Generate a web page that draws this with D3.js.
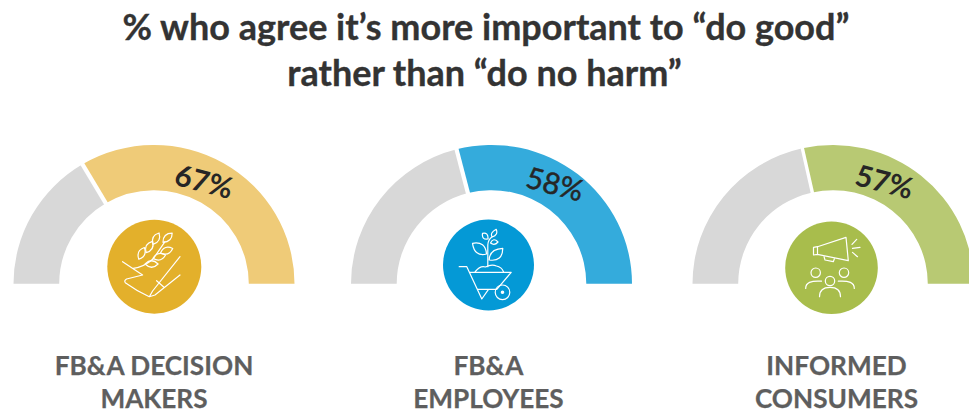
<!DOCTYPE html>
<html>
<head>
<meta charset="utf-8">
<script src="https://cdn.jsdelivr.net/npm/d3@7"></script>
<style>
html,body{margin:0;padding:0;background:#fff;overflow:hidden}
svg{display:block}
text{font-family:Lato,sans-serif}
</style>
</head>
<body>
<svg id="chart" width="969" height="413"></svg>
<script>
const titleLines = ["% who agree it\u2019s more important to \u201cdo good\u201d", "rather than \u201cdo no harm\u201d"];
const audiences = ["FB&A DECISION|MAKERS", "FB&A|EMPLOYEES", "INFORMED|CONSUMERS"];
const agreeShare = [67, 58, 57];
const arcColors = ["#EFCB78", "#34ABDC", "#B8C973"];
const badgeColors = ["#E3B02B", "#0499D6", "#A8BD4C"];
const restColor = "#D8D8D8";

const gaugeX = [154, 491.5, 833];
const gaugeY = 283.8;
const outerR = 140.5, innerR = 94.8, squash = 0.988;
const badges = [[154.3, 266.7, 47], [488.5, 265, 45.5], [831.5, 267.7, 46.3]];
const labelAngles = [26.1, 32.5, 26.8];
const labelRadii = [113.6, 118, 114];
const labelTilt = [15, 15, 15];
const captionX = [154, 488.5, 836.5];

const svg = d3.select("#chart");

svg.append("g").selectAll("text").data(titleLines).join("text")
  .attr("x", (d, i) => i ? 484.5 : 486).attr("y", (d, i) => 40 + i * 46.3)
  .attr("text-anchor", "middle").attr("font-size", 36).attr("font-weight", 700)
  .attr("fill", "#333").attr("stroke", "#333").attr("stroke-width", 0.35).text(d => d);

const pie = d3.pie().sort(null).value(d => d).startAngle(Math.PI / 2).endAngle(-Math.PI / 2);
const arc = d3.arc().innerRadius(innerR).outerRadius(outerR);

// Line-art icons, each drawn around the centre of its badge
const iconPainters = [
  g => {
    g.append("path").attr("d", "M-31.7 -5 L-11.7 8.3 L-27.7 12.3 Q-30.5 14 -29 16 Q-18 24 -5 30 L-1.7 24.3 L25.7 -10 M-5 30 L0.7 28.3 L25.7 8.3 M2.3 14 L9.7 20.5 M-21 1.7 Q-10 0 -1 -8 L10.7 -25");
    const leaf = (x, y, rot) => g.append("path").attr("d", "M-6.5 0 Q0 -6.5 6.5 0 Q0 6.5 -6.5 0")
      .attr("transform", `translate(${x},${y}) rotate(${rot})`);
    leaf(-12.7, -13.3, -65);
    leaf(-5, -19.7, -60);
    leaf(1.7, -28, -62);
    leaf(13.3, -29, -45);
    leaf(12.3, -16, -20);
    leaf(5, -10, -15);
    leaf(-2.7, -2.7, 0);
  },
  g => {
    g.append("path").attr("d", "M-29.3 1.7 L-21.7 1.7 L-6.7 34 L0 24.3 L-10.7 24.3 M-19 7.3 L22.7 7.3 L8.3 24.3 L0 24.3 M-13.3 6.7 Q-8 0 -3 2 Q3 -1 8 1 Q13 2 15 6.7");
    g.append("path").attr("d", "M-0.7 1.7 L-0.7 -20 Q-0.5 -25 3.3 -28 M-2 -11 Q-14 -8 -16 -21.7 Q-3 -24 -2 -11 M0.7 -5 Q1 -16 14.3 -16.7 Q14 -3 0.7 -5 M-0.5 -26 Q-7 -25 -6 -31.7 Q0 -33 -0.5 -26 M2 -22 Q5 -28 9.5 -23 Q6 -19 2 -22 M3.7 -28 Q1 -32 7.7 -35.7 Q10 -30 3.7 -28");
    g.append("circle").attr("cx", 14).attr("cy", 27.3).attr("r", 7.3);
    g.append("circle").attr("cx", 14).attr("cy", 27.3).attr("r", 1.2).attr("fill", "#fff");
  },
  g => {
    g.append("path").attr("d", "M-18 -20.3 L-14 -21 L-14 -13.3 L-18 -12.7 Z M-14 -21 L14.5 -30.3 L16.8 -7 L-14 -13.3 M-7.5 -11 L-6.5 -7.7 L1.8 -6 L2.8 -8.7");
    g.append("path").attr("d", "M20.5 -23.3 L25.2 -28.3 M21 -19.3 L28.5 -20.3 M21 -15.3 L26 -11");
    [[-15.8, 5], [12.5, 5], [-1.5, 13.3]].forEach(([x, y]) => {
      g.append("circle").attr("cx", x).attr("cy", y).attr("r", 4.7);
    });
    g.append("path").attr("d", "M-25.8 20.7 Q-26 12.3 -10 13.5 M22.8 20.7 Q23 12.3 6.8 13.5 M-12 29 Q-12 19.7 -1.5 19.7 Q9 19.7 9 29");
  }
];

agreeShare.forEach((share, i) => {
  const g = svg.append("g").attr("transform", `translate(${gaugeX[i]},${gaugeY})`);
  const parts = pie([share, 100 - share]);

  const dial = g.append("g").attr("transform", `scale(1,${squash})`);
  dial.selectAll("path.segment").data(parts).join("path")
    .attr("class", "segment")
    .attr("d", arc)
    .attr("fill", (d, j) => j ? restColor : arcColors[i]);

  // White divider at the boundary between the two segments
  const a = parts[0].endAngle;
  dial.append("line")
    .attr("x1", Math.sin(a) * (innerR - 2)).attr("y1", -Math.cos(a) * (innerR - 2))
    .attr("x2", Math.sin(a) * (outerR + 2)).attr("y2", -Math.cos(a) * (outerR + 2))
    .attr("stroke", "#fff").attr("stroke-width", i === 2 ? 3.4 : 4.2);

  const la = labelAngles[i] * Math.PI / 180, lr = labelRadii[i];
  g.append("text")
    .attr("transform", `translate(${Math.sin(la) * lr},${-Math.cos(la) * lr}) rotate(${labelTilt[i]})`)
    .attr("text-anchor", "middle").attr("dy", "0.35em")
    .attr("font-size", 29.5).attr("font-weight", i === 1 ? 400 : 700).attr("fill", "#262626")
    .attr("stroke", "#262626").attr("stroke-width", i === 1 ? 0.5 : 0)
    .text(share + "%");

  const [bx, by, br] = badges[i];
  svg.append("circle").attr("cx", bx).attr("cy", by).attr("r", br).attr("fill", badgeColors[i]);
  const icon = svg.append("g").attr("transform", `translate(${bx},${by})`)
    .attr("fill", "none").attr("stroke", "#fff").attr("stroke-width", 1.2)
    .attr("stroke-linejoin", "round").attr("stroke-linecap", "round");
  iconPainters[i](icon);

  svg.append("g").selectAll("text").data(audiences[i].split("|")).join("text")
    .attr("x", captionX[i]).attr("y", (d, k) => 375 + k * 33)
    .attr("text-anchor", "middle").attr("font-size", 26.2).attr("font-weight", 700)
    .attr("fill", "#5E5E5E").attr("stroke", "#5E5E5E").attr("stroke-width", 0.25).text(d => d);
});
</script>
</body>
</html>
